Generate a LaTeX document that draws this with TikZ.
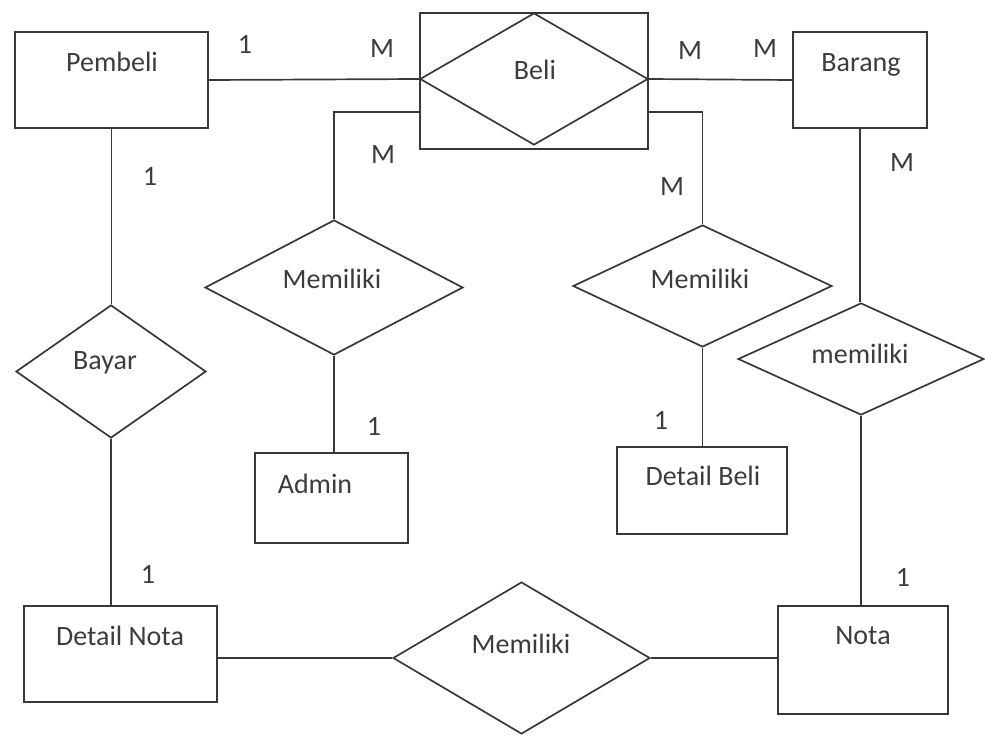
\documentclass[tikz,border=0pt]{standalone}
\usepackage{fontspec}
\setmainfont{Carlito}
\usetikzlibrary{shapes.geometric}
\definecolor{ink}{HTML}{383838}
\definecolor{txtc}{HTML}{3C3C3C}
\tikzset{
  entity/.style={draw=ink, line width=1.7pt, rectangle, inner sep=0pt},
  rel/.style={draw=ink, line width=1.7pt, diamond, inner sep=0pt, fill=white},
  conn/.style={draw=ink, line width=1.7pt},
  txt/.style={anchor=base, inner sep=0pt, text=txtc, font=\fontsize{28}{33}\selectfont},
  card/.style={anchor=base, inner sep=0pt, text=txtc, font=\fontsize{28}{33}\selectfont},
}
\begin{document}
\begin{tikzpicture}[x=1pt, y=-1pt]
\useasboundingbox (0,0) rectangle (985,736);

% entities
\node[entity, minimum width=193, minimum height=96] (pembeli) at (111.5,80) {};
\node[entity, minimum width=134, minimum height=96] (barang) at (860,80) {};
\node[entity, minimum width=153, minimum height=90] (admin) at (331.5,498) {};
\node[entity, minimum width=170, minimum height=87] (dbeli) at (702,490.5) {};
\node[entity, minimum width=193, minimum height=96] (dnota) at (120.5,654) {};
\node[entity, minimum width=170, minimum height=108] (nota) at (863,660) {};

% weak relationship Beli: diamond inside a rectangle
\node[entity, minimum width=228, minimum height=136] (belibox) at (534,81) {};
\node[rel, fill=none, minimum width=228, minimum height=132] (beli) at (534,79) {};

% relationships
\node[rel, minimum width=190, minimum height=133] (bayar) at (111,371.5) {};
\node[rel, minimum width=258, minimum height=135] (memA) at (334,287.5) {};
\node[rel, minimum width=259, minimum height=122] (memB) at (702.5,286) {};
\node[rel, minimum width=246, minimum height=112] (memC) at (861,359) {};
\node[rel, minimum width=257, minimum height=152] (memD) at (521.5,658) {};

% connectors
\draw[conn] (pembeli.east) -- (beli.west);
\draw[conn] (beli.east) -- (barang.west);
\draw[conn] ([yshift=-31pt]belibox.west) -| (memA.north);
\draw[conn] ([yshift=-31pt]belibox.east) -| (memB.north);
\draw[conn] (barang.south) -- (barang.south |- memC.north);
\draw[conn] (memA.south) -- (memA.south |- admin.north);
\draw[conn] (memB.south) -- (memB.south |- dbeli.north);
\draw[conn] (pembeli.south) -- (pembeli.south |- bayar.north);
\draw[conn] (bayar.south) -- (bayar.south |- dnota.north);
\draw[conn] (dnota.east |- memD.west) -- (memD.west);
\draw[conn] (memD.east) -- (memD.east -| nota.west);
\draw[conn] (memC.south) -- (memC.south |- nota.north);

% names
\node[txt] (t-pembeli) at (112,71) {Pembeli};
\node[txt] (t-beli) at (535,79) {Beli};
\node[txt] (t-barang) at (861,71) {Barang};
\node[txt] (t-memA) at (332,288) {Memiliki};
\node[txt] (t-bayar) at (105,369) {Bayar};
\node[txt] (t-admin) at (315,493) {Admin};
\node[txt] (t-memB) at (700,288) {Memiliki};
\node[txt] (t-memC) at (860,363) {memiliki};
\node[txt] (t-dbeli) at (703,485) {Detail Beli};
\node[txt] (t-dnota) at (120,645) {Detail Nota};
\node[txt] (t-memD) at (521,653) {Memiliki};
\node[txt] (t-nota) at (863,644) {Nota};

% cardinalities
\node[card] (c1) at (245,53) {1};
\node[card] (c2) at (382,57) {M};
\node[card] (c3) at (690,59) {M};
\node[card] (c4) at (765,57) {M};
\node[card] (c5) at (383,163) {M};
\node[card] (c6) at (150,185) {1};
\node[card] (c7) at (672,195) {M};
\node[card] (c8) at (902,171) {M};
\node[card] (c9) at (374,435) {1};
\node[card] (c10) at (661,429) {1};
\node[card] (c11) at (148,583) {1};
\node[card] (c12) at (903,586) {1};
\end{tikzpicture}
\end{document}
